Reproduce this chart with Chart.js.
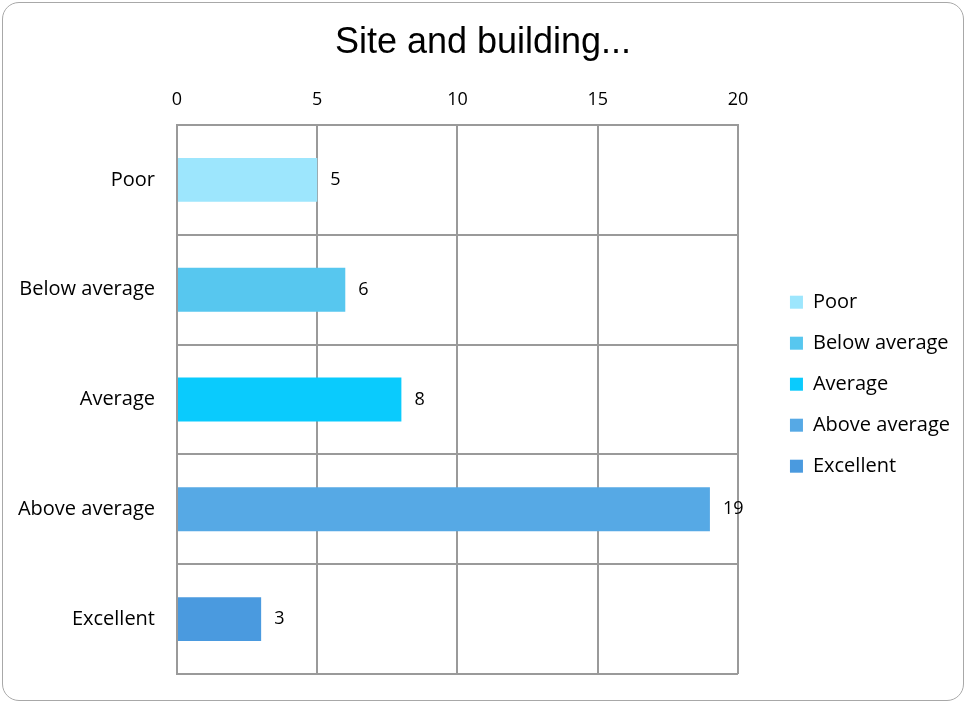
<!DOCTYPE html>
<html lang="en">
<head>
    <meta charset="UTF-8">
    <title>Site and building...</title>
    <script src="https://cdn.jsdelivr.net/npm/chart.js"></script>
    <style>
        body { margin: 0; background: #fff; }
        .chart-container {
            position: relative;
            width: 966px;
            height: 702px;
        }
        canvas { position: absolute; top: 0; left: 0; }
        .frame {
            position: absolute;
            left: 2px; top: 2px; right: 2px; bottom: 1px;
            border: 1.5px solid #a8a8a8;
            border-radius: 17px;
            pointer-events: none;
        }
    </style>
</head>
<body>
    <div class="chart-container">
        <canvas id="ratingChart" width="966" height="702"></canvas>
        <div class="frame"></div>
    </div>

    <script>
        const categories = ['Poor', 'Below average', 'Average', 'Above average', 'Excellent'];
        const counts = [5, 6, 8, 19, 3];
        const barColors = ['#9de6fd', '#57c7ef', '#0acbfd', '#56a9e5', '#4a9adf'];
        const xTicks = [0, 5, 10, 15, 20];

        const labelFont = { family: 'Open Sans', size: 20 };
        const numberFont = { family: 'Open Sans', size: 18 };
        const gridColor = '#9a9a9a';

        // value next to the end of each bar
        const valueLabels = {
            id: 'valueLabels',
            afterDatasetsDraw(chart) {
                const ctx = chart.ctx;
                const meta = chart.getDatasetMeta(0);
                ctx.save();
                ctx.font = numberFont.size + 'px ' + numberFont.family;
                ctx.fillStyle = '#000';
                ctx.textAlign = 'left';
                ctx.textBaseline = 'middle';
                meta.data.forEach((bar, i) => {
                    ctx.fillText(String(counts[i]), bar.x + 13, bar.y);
                });
                ctx.restore();
            }
        };

        const ctx = document.getElementById('ratingChart').getContext('2d');
        const ratingChart = new Chart(ctx, {
            type: 'bar',
            data: {
                labels: categories,
                datasets: [{
                    label: 'Site and building',
                    data: counts,
                    backgroundColor: barColors,
                    borderWidth: 0,
                    categoryPercentage: 1,
                    barPercentage: 0.4
                }]
            },
            options: {
                indexAxis: 'y',
                responsive: false,
                animation: false,
                layout: { padding: { left: 6, right: 6, top: 0, bottom: 28 } },
                scales: {
                    x: {
                        position: 'top',
                        min: 0,
                        max: 20,
                        afterBuildTicks: (scale) => {
                            scale.ticks = xTicks.map(v => ({ value: v }));
                        },
                        grid: { color: gridColor, lineWidth: 2, drawTicks: false },
                        border: { color: gridColor, width: 2 },
                        ticks: { color: '#000', font: numberFont, padding: 14 }
                    },
                    y: {
                        afterFit: (scale) => {
                            scale.width = 171;
                            scale.paddingTop = 0;
                            scale.paddingBottom = 0;
                        },
                        grid: { color: gridColor, lineWidth: 2, drawTicks: false, offset: true },
                        border: { color: gridColor, width: 2 },
                        ticks: { color: '#000', font: labelFont, padding: 22 }
                    },
                    // empty spacer between the plot and the legend
                    gap: {
                        type: 'linear',
                        position: 'right',
                        grid: { display: false },
                        border: { display: false },
                        ticks: { display: false },
                        afterFit: (scale) => { scale.width = 31; }
                    }
                },
                plugins: {
                    title: {
                        display: true,
                        text: 'Site and building...',
                        color: '#000',
                        font: { family: 'Liberation Sans', size: 36, weight: 'normal' },
                        padding: { top: 21.6, bottom: 10.6 }
                    },
                    legend: {
                        position: 'right',
                        maxWidth: 260,
                        onClick: null,
                        title: { display: true, text: '', padding: { top: 74, bottom: 0 }, font: { size: 17 } },
                        labels: {
                            color: '#000',
                            font: labelFont,
                            boxWidth: 13,
                            boxHeight: 13,
                            padding: 21,
                            generateLabels: () => categories.map((c, i) => ({
                                text: c,
                                fillStyle: barColors[i],
                                strokeStyle: barColors[i],
                                fontColor: '#000',
                                lineWidth: 0,
                                hidden: false,
                                index: i
                            }))
                        }
                    },
                    tooltip: { enabled: false }
                }
            },
            plugins: [valueLabels]
        });
    </script>
</body>
</html>
